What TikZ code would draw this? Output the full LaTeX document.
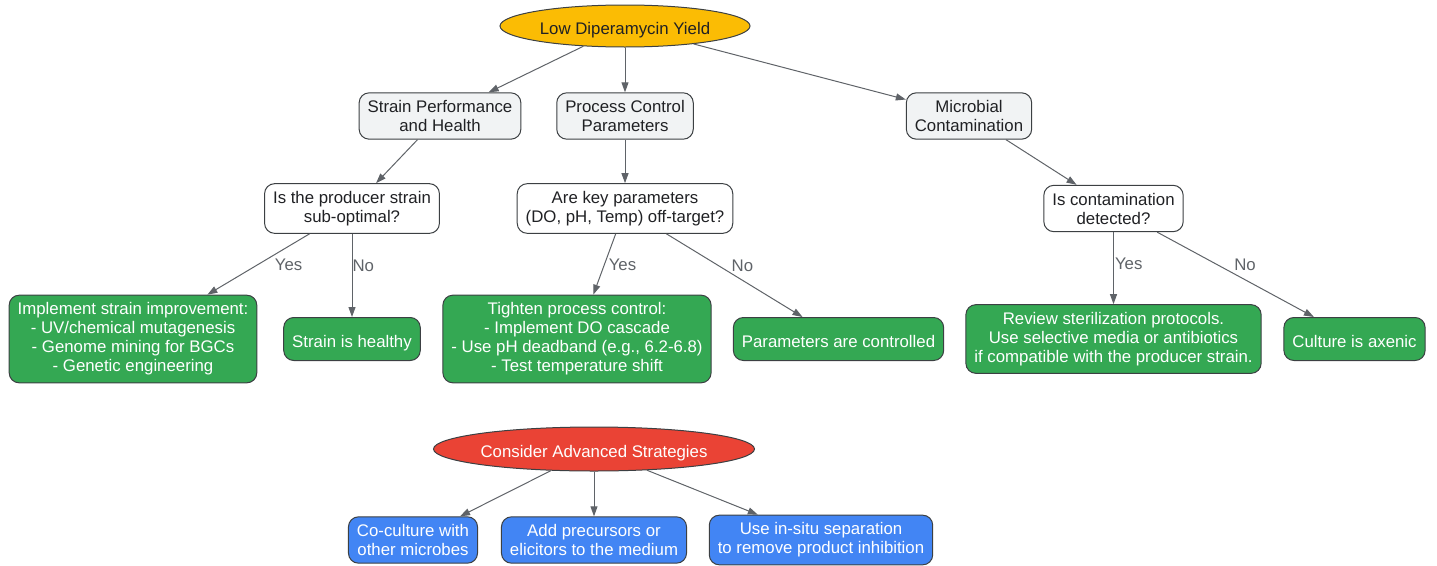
\documentclass[tikz,border=0pt]{standalone}
\usepackage{fontspec}
\setmainfont{Liberation Sans}
\usetikzlibrary{shapes.geometric, arrows.meta}
\definecolor{amarelo}{HTML}{FBBC04}
\definecolor{cinzaclaro}{HTML}{F1F3F4}
\definecolor{verde}{HTML}{34A853}
\definecolor{vermelho}{HTML}{EA4335}
\definecolor{azul}{HTML}{4285F4}
\definecolor{corseta}{HTML}{5F6368}
\definecolor{borda}{HTML}{3C4043}
\definecolor{texto}{HTML}{202124}

\begin{document}
\begin{tikzpicture}[x=1pt, y=-1pt,
    base/.style={draw=borda, line width=1pt, align=center, text=texto,
        font=\fontsize{16.8}{19}\selectfont},
    linha/.style={text height=18.6pt, text depth=2pt},
    caixa/.style={base, rectangle, rounded corners=10pt, minimum height=43pt,
        inner xsep=8.5pt, inner ysep=7.5pt},
    oval/.style={base, linha, ellipse, inner sep=0pt},
    tema/.style={caixa, fill=cinzaclaro},
    pergunta/.style={caixa, fill=white},
    acao/.style={caixa, fill=verde, text=white},
    ideia/.style={caixa, fill=azul, text=white},
    seta/.style={draw=corseta, line width=1pt, -{Triangle[length=10pt, width=7pt]}},
    rot/.style={text=corseta, inner sep=0pt, anchor=west,
        font=\fontsize{16.8}{19}\selectfont}]
    \useasboundingbox (0,0) rectangle (1437,565);
    % Raiz
    \node[oval, fill=amarelo, minimum width=250pt, minimum height=42pt] (raiz) at (625,26) {Low Diperamycin Yield};
    % Causas
    \node[tema] (cepa) at (440,116) {Strain Performance\\and Health};
    \node[tema] (processo) at (625,116) {Process Control\\Parameters};
    \node[tema] (micro) at (969,116) {Microbial\\Contamination};
    % Perguntas
    \node[pergunta] (pcepa) at (352,208.5) {Is the producer strain\\sub-optimal?};
    \node[pergunta] (pprocesso) at (625,208.5) {Are key parameters\\(DO, pH, Temp) off-target?};
    \node[pergunta] (pmicro) at (1113.5,208.5) {Is contamination\\detected?};
    % Acoes
    \node[acao] (acepa) at (133,339) {Implement strain improvement:\\- UV/chemical mutagenesis\\- Genome mining for BGCs\\- Genetic engineering};
    \node[acao, linha] (okcepa) at (352,339) {Strain is healthy};
    \node[acao] (aprocesso) at (577,339) {Tighten process control:\\- Implement DO cascade\\- Use pH deadband (e.g., 6.2-6.8)\\- Test temperature shift};
    \node[acao, linha] (okprocesso) at (838.5,339) {Parameters are controlled};
    \node[acao] (amicro) at (1113.5,339) {Review sterilization protocols.\\Use selective media or antibiotics\\if compatible with the producer strain.};
    \node[acao, linha] (okmicro) at (1354.5,339) {Culture is axenic};
    % Estrategias
    \node[oval, fill=vermelho, text=white, minimum width=321pt, minimum height=44pt] (avanc) at (594,449) {Consider Advanced Strategies};
    \node[ideia] (cocult) at (413,540) {Co-culture with\\other microbes};
    \node[ideia] (precur) at (594,540) {Add precursors or\\elicitors to the medium};
    \node[ideia] (insitu) at (821,540) {Use in-situ separation\\to remove product inhibition};
    % Setas
    \foreach \n in {cepa,processo,micro}
        \draw[seta] (raiz) -- (\n);
    \draw[seta] (cepa) -- (pcepa);
    \draw[seta] (processo) -- (pprocesso);
    \draw[seta] (micro) -- (pmicro);
    \draw[seta] (pcepa) -- node[rot, pos=.51, xshift=17pt] {Yes} (acepa);
    \draw[seta] (pcepa) -- node[rot, pos=.38, xshift=0pt] {No} (okcepa);
    \draw[seta] (pprocesso) -- node[rot, pos=.51, xshift=4pt] {Yes} (aprocesso);
    \draw[seta] (pprocesso) -- node[rot, pos=.38, xshift=13pt] {No} (okprocesso);
    \draw[seta] (pmicro) -- node[rot, pos=.44, xshift=1pt] {Yes} (amicro);
    \draw[seta] (pmicro) -- node[rot, pos=.38, xshift=17pt] {No} (okmicro);
    \foreach \n in {cocult,precur,insitu}
        \draw[seta] (avanc) -- (\n);
\end{tikzpicture}
\end{document}
